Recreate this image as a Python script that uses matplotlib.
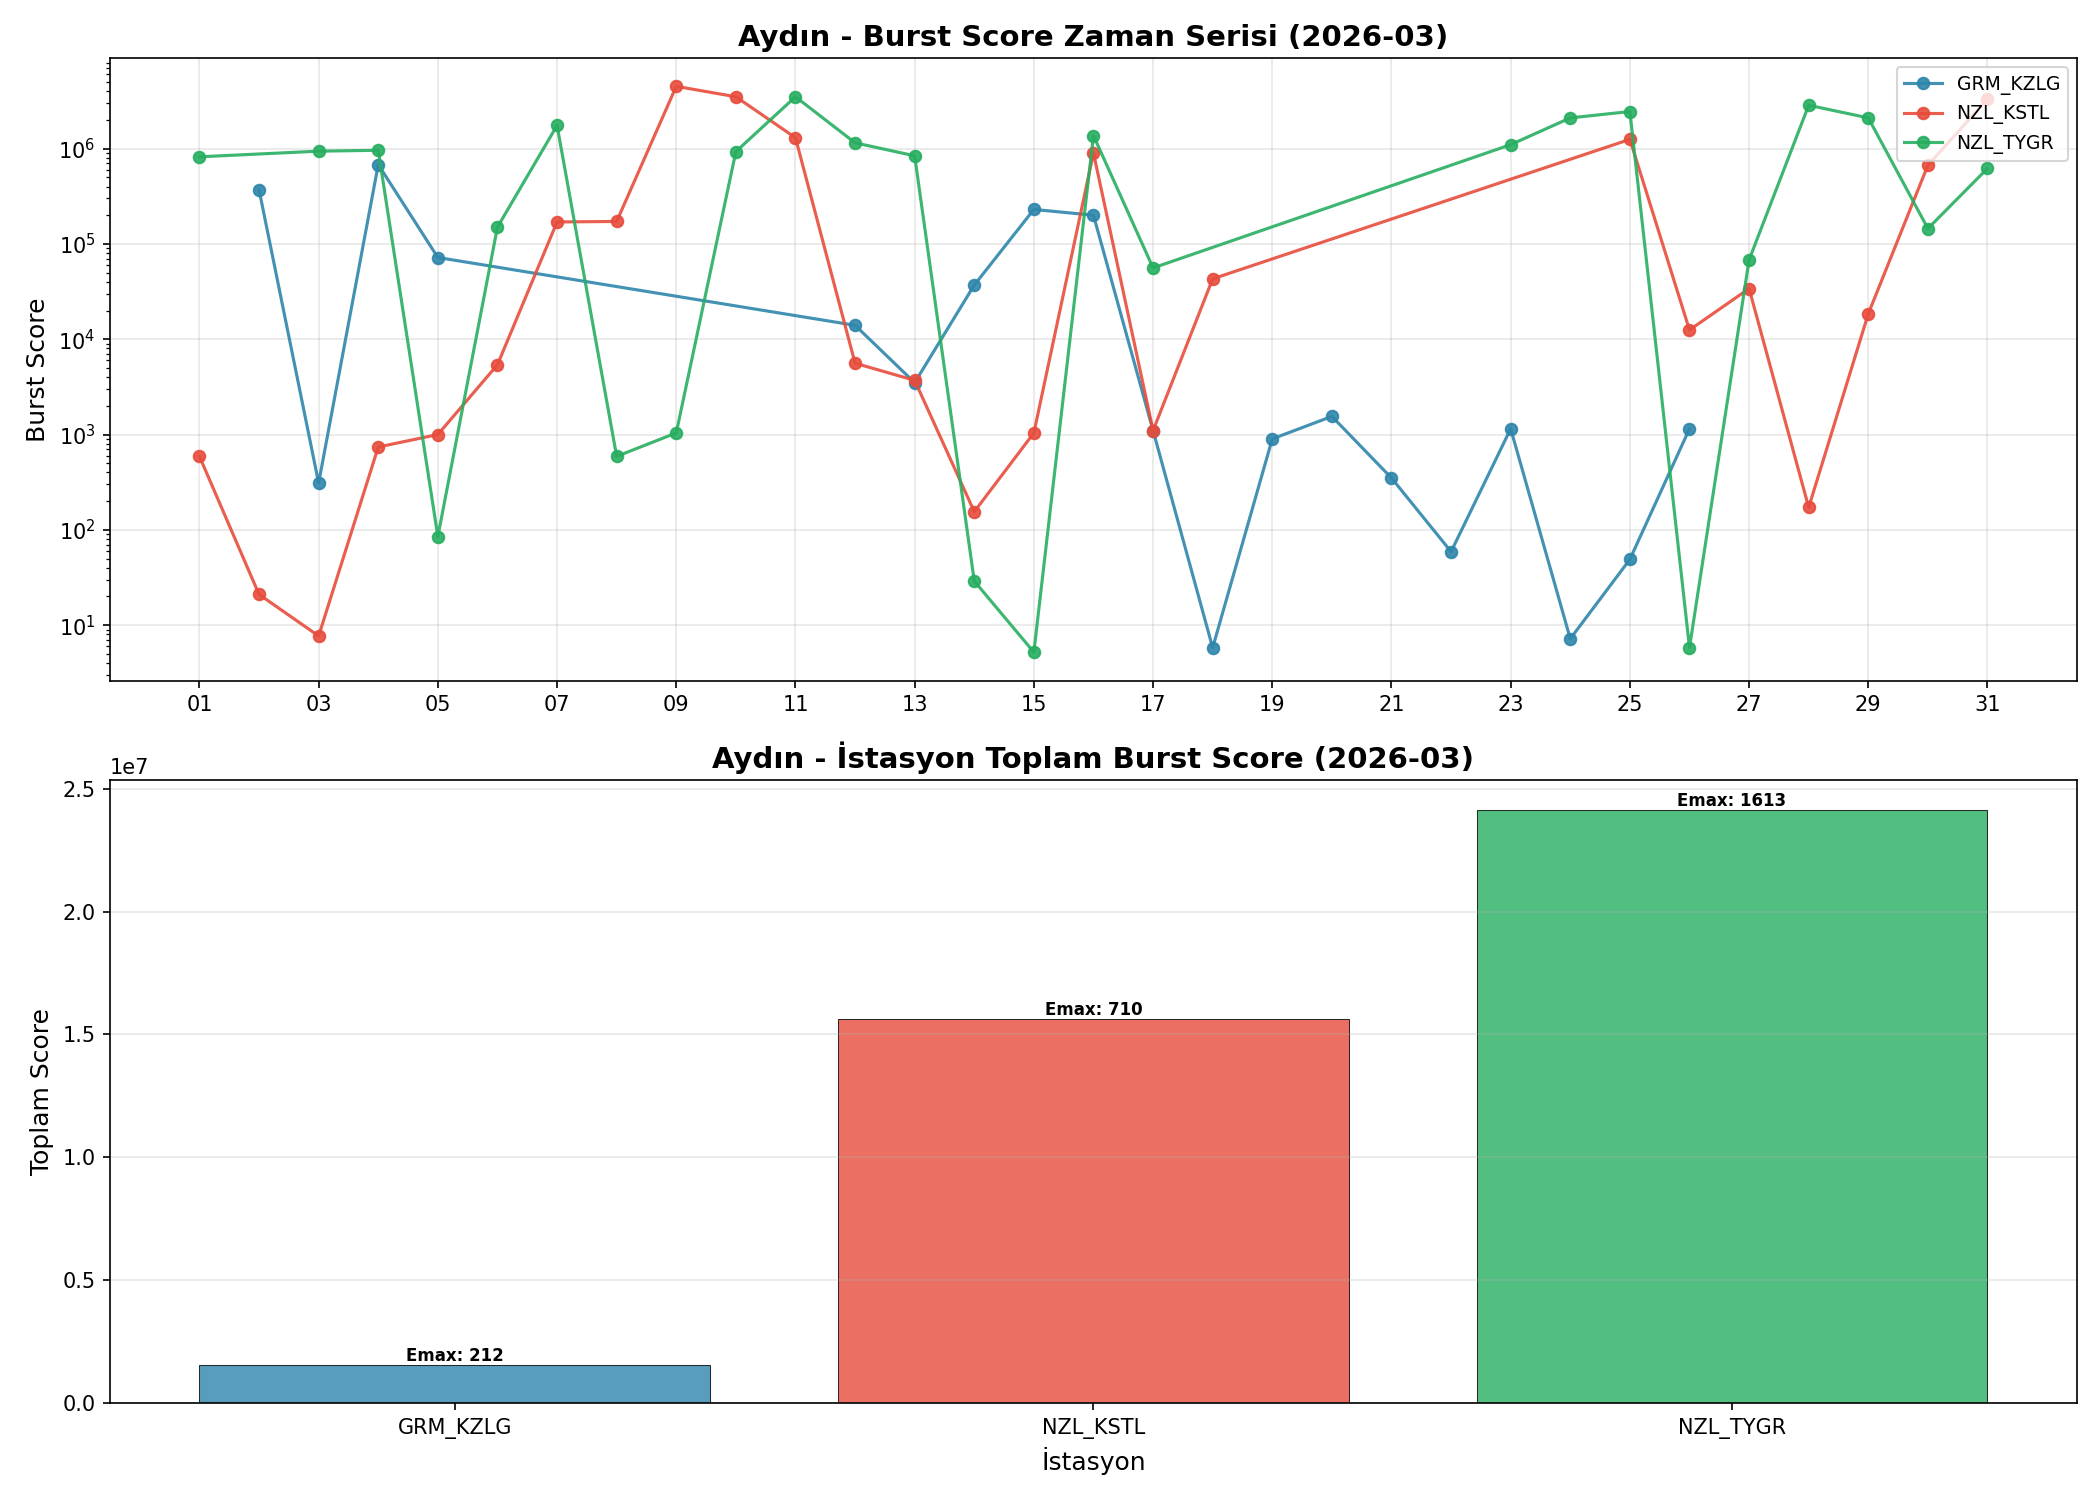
import matplotlib
matplotlib.use("Agg")
import matplotlib.pyplot as plt
import numpy as np

stations = ["GRM_KZLG", "NZL_KSTL", "NZL_TYGR"]
colors = ["#2E86AB", "#E74C3C", "#27AE60"]

grm_days = [2, 3, 4, 5, 12, 13, 14, 15, 16, 17, 18, 19, 20, 21, 22, 23, 24, 25, 26]
grm_vals = [3.7e5, 310, 6.8e5, 7.2e4, 1.4e4, 3500, 3.7e4, 2.3e5, 2.0e5, 1100,
            5.8, 900, 1550, 350, 59, 1150, 7.2, 49, 1150]

kstl_days = [1, 2, 3, 4, 5, 6, 7, 8, 9, 10, 11, 12, 13, 14, 15, 16, 17, 18,
             25, 26, 27, 28, 29, 30, 31]
kstl_vals = [590, 21, 7.7, 740, 1000, 5400, 1.7e5, 1.72e5, 4.5e6, 3.5e6, 1.3e6,
             5600, 3700, 155, 1040, 9e5, 1100, 4.3e4,
             1.25e6, 1.25e4, 3.4e4, 172, 1.85e4, 6.7e5, 3.3e6]

tygr_days = [1, 3, 4, 5, 6, 7, 8, 9, 10, 11, 12, 13, 14, 15, 16, 17,
             23, 24, 25, 26, 27, 28, 29, 30, 31]
tygr_vals = [8.2e5, 9.4e5, 9.6e5, 85, 1.5e5, 1.75e6, 590, 1040, 9.3e5, 3.5e6,
             1.15e6, 8.4e5, 29, 5.2, 1.37e6, 5.6e4,
             1.1e6, 2.1e6, 2.45e6, 5.8, 6.8e4, 2.85e6, 2.1e6, 1.45e5, 6.2e5]

totals = [1.53e6, 1.563e7, 2.413e7]
emax = [212, 710, 1613]

tick_days = list(range(1, 32, 2))
tick_labels = [f"{d:02d}" for d in tick_days]

fig, (ax1, ax2) = plt.subplots(2, 1, figsize=(14, 10), dpi=150)

series = [(grm_days, grm_vals), (kstl_days, kstl_vals), (tygr_days, tygr_vals)]
for (d, v), name, c in zip(series, stations, colors):
    ax1.plot(d, v, marker="o", linewidth=1.5, markersize=5.5, color=c, alpha=0.9, label=name)
ax1.set_yscale("log")
ax1.set_xticks(tick_days)
ax1.set_xticklabels(tick_labels)
ax1.set_ylabel("Burst Score", fontsize=12)
ax1.set_title("Aydın - Burst Score Zaman Serisi (2026-03)", fontsize=14, fontweight="bold")
ax1.legend(loc="upper right", fontsize=9)
ax1.grid(True, alpha=0.3)

bars = ax2.bar(stations, totals, color=colors, alpha=0.8, edgecolor="black", linewidth=0.5)
for b, e in zip(bars, emax):
    ax2.text(b.get_x() + b.get_width() / 2, b.get_height(), f"Emax: {e}",
             ha="center", va="bottom", fontsize=8, fontweight="bold")
ax2.set_ylabel("Toplam Score", fontsize=12)
ax2.set_xlabel("İstasyon", fontsize=12)
ax2.set_title("Aydın - İstasyon Toplam Burst Score (2026-03)", fontsize=14, fontweight="bold")
ax2.grid(True, alpha=0.3, axis="y")

fig.subplots_adjust(left=0.0524, right=0.989, top=0.9613, bottom=0.0647, hspace=0.1606)
plt.savefig("out.png", dpi=150)
